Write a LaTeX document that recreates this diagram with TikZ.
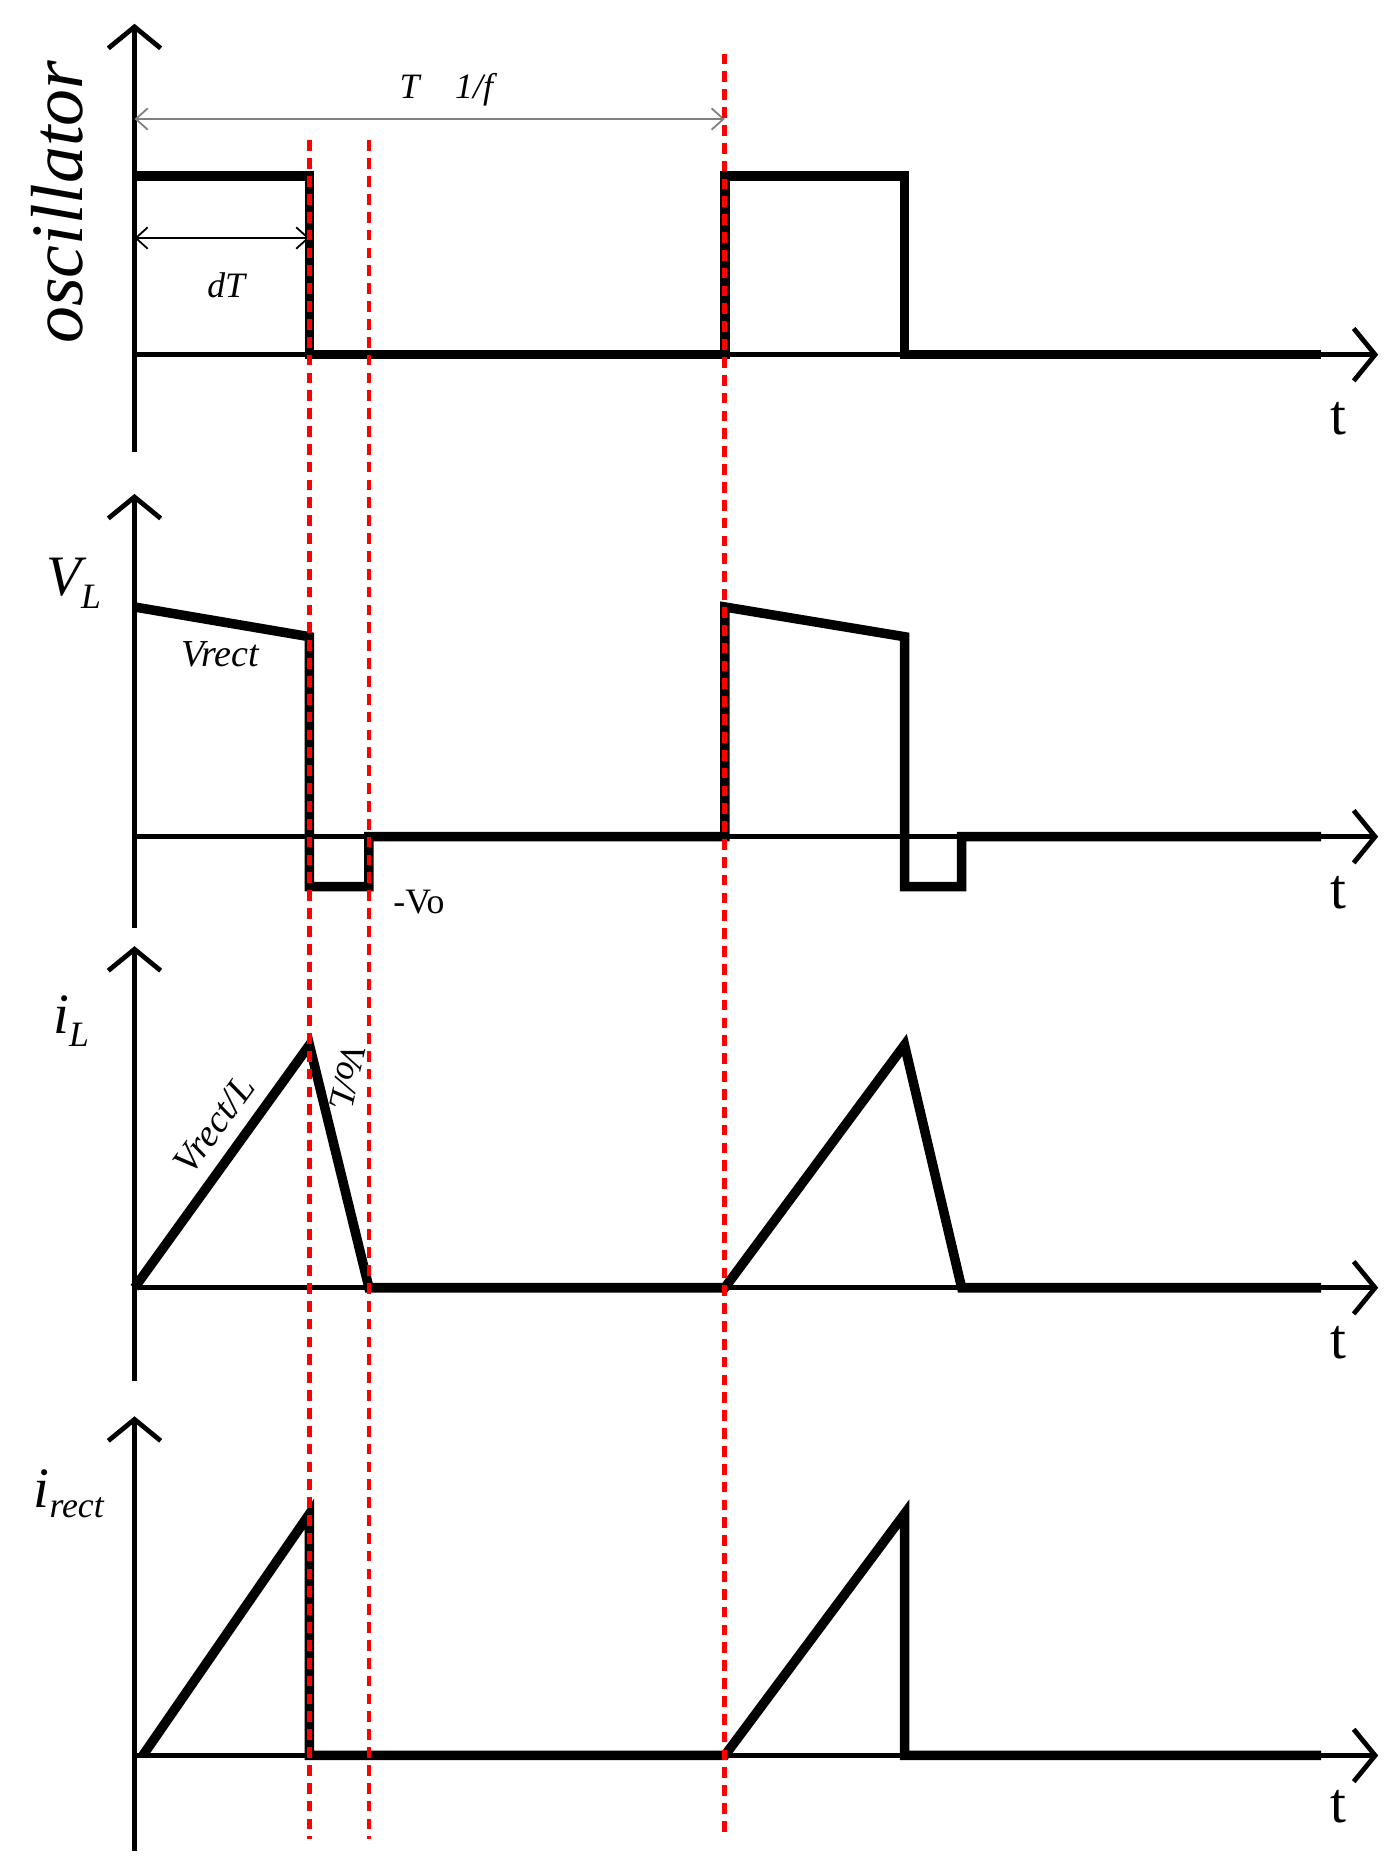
\documentclass[tikz,border=0pt]{standalone}
\usepackage{fontspec}
\setmainfont{Liberation Serif}
\usetikzlibrary{arrows.meta}
\begin{document}
\begin{tikzpicture}[x=1pt,y=-1pt,
 ax/.style={line width=4pt,-{Straight Barb[length=18pt,width=44pt,line width=4pt]}},
 sig/.style={line width=8pt,line join=miter},
 red/.style={draw=red,line width=4pt,dash pattern=on 9pt off 6pt},
 dim/.style={draw=gray,line width=1.5pt,{Straight Barb[length=10pt,width=18pt]}-{Straight Barb[length=10pt,width=18pt]}},
 tl/.style={font=\fontsize{48}{48}\selectfont}]
\useasboundingbox (0,0) rectangle (1170,1562);
% panel 1
\draw[ax] (113,380) -- (113,20);
\draw[ax] (113,298) -- (1158,298);
\draw[sig] (113,148) -- (260,148) -- (260,298) -- (609,298) -- (609,148) -- (760,148) -- (760,298) -- (1110,298);
\draw[dim] (113,100) -- (609,100);
\draw[dim,draw=black] (113,200) -- (260,200);
\node[font=\itshape\fontsize{30}{30}\selectfont] (tf) at (375,75) {T\quad 1/f};
\node[font=\itshape\fontsize{30}{30}\selectfont] (dt) at (190,240) {dT};
\node[rotate=90,font=\itshape\fontsize{62}{62}\selectfont] (osc) at (48,170) {oscillator};
\node[tl] (t1) at (1125,352) {t};
% panel 2
\draw[ax] (113,780) -- (113,415);
\draw[ax] (113,703) -- (1158,703);
\draw[sig] (113,510) -- (260,535) -- (260,745) -- (310,745) -- (310,703) -- (609,703) -- (609,510) -- (760,535) -- (760,745) -- (808,745) -- (808,703) -- (1110,703);
\node[font=\itshape\fontsize{48}{48}\selectfont] (vl) at (62,490) {V\textsubscript{\fontsize{30}{30}\selectfont L}};
\node[font=\itshape\fontsize{32}{32}\selectfont] (vr) at (185,550) {Vrect};
\node[font=\fontsize{30}{30}\selectfont] (vo) at (352,758) {-Vo};
\node[tl] (t2) at (1125,750) {t};
% panel 3
\draw[ax] (113,1160) -- (113,795);
\draw[ax] (113,1082) -- (1158,1082);
\draw[sig] (113,1082) -- (260,878) -- (310,1082) -- (609,1082) -- (760,878) -- (808,1082) -- (1110,1082);
\node[font=\itshape\fontsize{48}{48}\selectfont] (il) at (60,858) {i\textsubscript{\fontsize{30}{30}\selectfont L}};
\node[rotate=54,inner sep=0pt,font=\itshape\fontsize{32}{32}\selectfont] (vrl) at (180,945) {Vrect/L};
\node[rotate=-103,inner sep=0pt,font=\itshape\fontsize{30}{30}\selectfont] (vol) at (292,905) {Vo/L};
\node[tl] (t3) at (1125,1128) {t};
% panel 4
\draw[ax] (113,1555) -- (113,1190);
\draw[ax] (113,1475) -- (1158,1475);
\draw[sig] (120,1475) -- (260,1272) -- (260,1475) -- (609,1475) -- (760,1272) -- (760,1475) -- (1110,1475);
\node[font=\itshape\fontsize{48}{48}\selectfont] (ir) at (58,1255) {i\textsubscript{\fontsize{30}{30}\selectfont rect}};
\node[tl] (t4) at (1125,1518) {t};
% red dashed
\draw[red] (260,118) -- (260,1545);
\draw[red] (310,118) -- (310,1545);
\draw[red] (609,45) -- (609,1540);
\end{tikzpicture}
\end{document}
